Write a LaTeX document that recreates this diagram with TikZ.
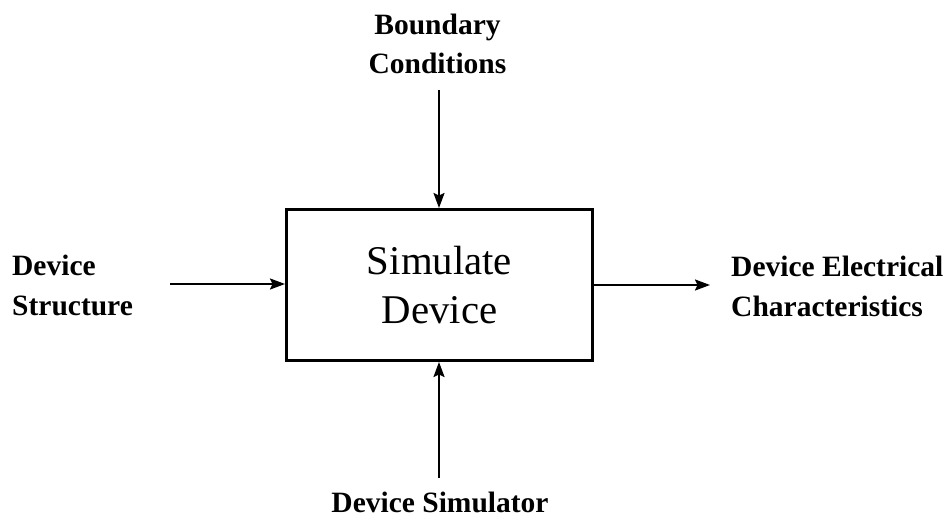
\documentclass[tikz,border=0pt]{standalone}
\usepackage{fontspec}
\setmainfont{Liberation Serif}
\usetikzlibrary{arrows.meta}
\begin{document}
\begin{tikzpicture}[x=1pt,y=-1pt,
  label/.style={font=\fontsize{29.5}{39.5}\selectfont\bfseries, inner sep=0pt},
  boxtext/.style={font=\fontsize{40.8}{49}\selectfont, align=center},
  flow/.style={line width=1.9pt, -{Stealth[length=15pt,width=11pt,inset=2.5pt]}},
  process/.style={draw, line width=3pt, minimum width=306pt, minimum height=151pt, inner sep=0pt}]
  \useasboundingbox (0,0) rectangle (946,519);

  % central activity box
  \node[process, boxtext] (sim) at (439.5,285) {Simulate\\Device};

  % inputs, control, mechanism and output labels (base = last line)
  \node[label, align=left, anchor=base west] (struct) at (12,315) {Device\\Structure};
  \node[label, align=center, anchor=base] (bound) at (437.5,74) {Boundary\\Conditions};
  \node[label, align=left, anchor=base west] (elec) at (731,316) {Device Electrical\\Characteristics};
  \node[label, anchor=base] (simr) at (440,512) {Device Simulator};

  % free ends of the connectors
  \coordinate (inL) at (170,284);
  \coordinate (inT) at (439,90);
  \coordinate (inB) at (439,478);
  \coordinate (outR) at (710,285);

  \draw[flow] (inL) -- (inL -| sim.west);
  \draw[flow] (inT) -- (inT |- sim.north);
  \draw[flow] (inB) -- (inB |- sim.south);
  \draw[flow] (outR -| sim.east) -- (outR);
\end{tikzpicture}
\end{document}
